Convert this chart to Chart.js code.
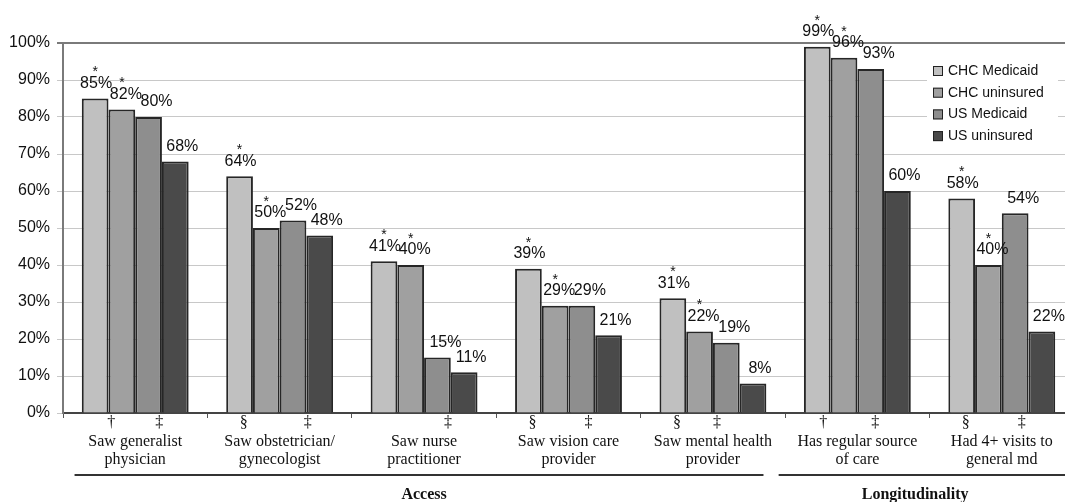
<!DOCTYPE html>
<html lang="en">
<head>
  <meta charset="UTF-8" />
  <title>CHC vs US - Access and Longitudinality</title>
  <script src="https://cdn.jsdelivr.net/npm/chart.js@4/dist/chart.umd.min.js"></script>
  <style>
    body {
      margin: 0;
      background: #fff;
      overflow: hidden;
    }
    canvas {
      display: block;
    }
  </style>
</head>
<body>
  <canvas id="chart" width="1076" height="502"></canvas>

  <script>
    // category labels (two lines each) and the footnote marks shown above them
    const categories = [
      ['Saw generalist', 'physician'],
      ['Saw obstetrician/', 'gynecologist'],
      ['Saw nurse', 'practitioner'],
      ['Saw vision care', 'provider'],
      ['Saw mental health', 'provider'],
      ['Has regular source', 'of care'],
      ['Had 4+ visits to', 'general md']
    ];
    const footnotes = [
      '\u2020          \u2021',
      '\u00a7              \u2021  ',
      '            \u2021',
      '\u00a7            \u2021    ',
      '\u00a7        \u2021        ',
      '\u2020           \u2021    ',
      '\u00a7            \u2021    '
    ];

    const seriesNames = ['CHC Medicaid', 'CHC uninsured', 'US Medicaid', 'US uninsured'];
    const chcMedicaid  = [85, 64, 41, 39, 31, 99, 58];
    const chcUninsured = [82, 50, 40, 29, 22, 96, 40];
    const usMedicaid   = [80, 52, 15, 29, 19, 93, 54];
    const usUninsured  = [68, 48, 11, 21,  8, 60, 22];
    // series marked with * (significant difference)
    const starred = [true, true, false, false];

    const yTicks = [0, 10, 20, 30, 40, 50, 60, 70, 80, 90, 100];

    const groupNames = ['Access', 'Longitudinality'];
    const groupRanges = [[0, 4], [5, 6]];

    const colors = ['#c0c0c0', '#a0a0a0', '#8e8e8e', '#4a4a4a'];
    const sans = '"Liberation Sans", Arial, sans-serif';
    const serif = '"Liberation Serif", "Times New Roman", serif';

    // value labels with asterisk above
    const labelShift = [1, 4, 8, 7];
    const valueLabels = {
      id: 'valueLabels',
      afterDatasetsDraw(chart) {
        const ctx = chart.ctx;
        ctx.save();
        ctx.textAlign = 'center';
        ctx.textBaseline = 'middle';
        ctx.fillStyle = '#111';
        chart.data.datasets.forEach((ds, i) => {
          chart.getDatasetMeta(i).data.forEach((bar, j) => {
            const cy = bar.y - 15;
            ctx.font = '16px ' + sans;
            ctx.fillText(ds.data[j] + '%', bar.x + labelShift[i], cy);
            if (starred[i]) {
              ctx.font = '14px ' + sans;
              ctx.fillText('*', bar.x, cy - 11);
            }
          });
        });
        ctx.restore();
      }
    };

    // legend box inside the plot, top right
    const insideLegend = {
      id: 'insideLegend',
      afterDatasetsDraw(chart) {
        const ctx = chart.ctx;
        const area = chart.chartArea;
        const left = area.right - 147;
        const top = area.top + 15;
        ctx.save();
        ctx.fillStyle = '#fff';
        ctx.fillRect(left, top, 131, 93);
        ctx.font = '14px ' + sans;
        ctx.textBaseline = 'middle';
        chart.data.datasets.forEach((ds, i) => {
          const y = top + 13 + i * 21.7;
          ctx.fillStyle = ds.backgroundColor;
          ctx.fillRect(left + 6, y - 5, 10, 10);
          ctx.strokeStyle = '#222';
          ctx.lineWidth = 1;
          ctx.strokeRect(left + 6.5, y - 4.5, 9, 9);
          ctx.fillStyle = '#111';
          ctx.fillText(ds.label, left + 21, y);
        });
        ctx.restore();
      }
    };

    // group underline + bold group name under the category labels
    const groupSpans = [[-0.42, 0.35], [-0.545, 0.5]];
    const groupLabelAt = [2, 5.4];
    const groupLabels = {
      id: 'groupLabels',
      afterDraw(chart) {
        const ctx = chart.ctx;
        const x = chart.scales.x;
        const lineY = chart.chartArea.bottom + 62;
        ctx.save();
        ctx.strokeStyle = '#333';
        ctx.lineWidth = 2;
        ctx.fillStyle = '#111';
        ctx.font = 'bold 16px ' + serif;
        ctx.textAlign = 'center';
        ctx.textBaseline = 'middle';
        groupNames.forEach((name, g) => {
          const x0 = x.getPixelForValue(groupRanges[g][0] + groupSpans[g][0]);
          const x1 = x.getPixelForValue(groupRanges[g][1] + groupSpans[g][1]);
          ctx.beginPath();
          ctx.moveTo(x0, lineY);
          ctx.lineTo(x1, lineY);
          ctx.stroke();
          ctx.fillText(name, x.getPixelForValue(groupLabelAt[g]), lineY + 20);
        });
        ctx.restore();
      }
    };

    const seriesData = [chcMedicaid, chcUninsured, usMedicaid, usUninsured];

    new Chart(document.getElementById('chart'), {
      type: 'bar',
      data: {
        labels: categories.map((c, i) => [footnotes[i], c[0], c[1]]),
        datasets: seriesNames.map((name, i) => ({
          label: name,
          data: seriesData[i],
          backgroundColor: colors[i],
          borderColor: '#262626',
          borderWidth: 2,
          categoryPercentage: 0.74,
          barPercentage: 1.0
        }))
      },
      options: {
        responsive: false,
        animation: false,
        layout: { padding: { top: 43, right: 2, left: 0, bottom: 0 } },
        plugins: {
          legend: { display: false },
          tooltip: { enabled: false }
        },
        scales: {
          x: {
            grid: {
              offset: true,
              drawOnChartArea: false,
              tickLength: 5,
              color: '#555'
            },
            border: { color: '#444', width: 2 },
            ticks: {
              color: '#111',
              font: { family: serif, size: 16, lineHeight: 1.15 },
              padding: -4,
              maxRotation: 0,
              minRotation: 0,
              autoSkip: false
            },
            afterFit(scale) { scale.height = 89; }
          },
          y: {
            min: 0,
            max: 100,
            afterBuildTicks(scale) { scale.ticks = yTicks.map(v => ({ value: v })); },
            ticks: {
              color: '#111',
              font: { family: sans, size: 16 },
              padding: 7,
              callback: v => v + '%'
            },
            grid: {
              tickLength: 6,
              color: c => c.tick && c.tick.value === 100 ? '#7a7a7a' : '#c8c8c8',
              lineWidth: c => c.tick && c.tick.value === 100 ? 2 : 1
            },
            border: { color: '#7a7a7a', width: 2 },
            afterFit(scale) { scale.width = 63; }
          }
        }
      },
      plugins: [valueLabels, insideLegend, groupLabels]
    });
  </script>
</body>
</html>
